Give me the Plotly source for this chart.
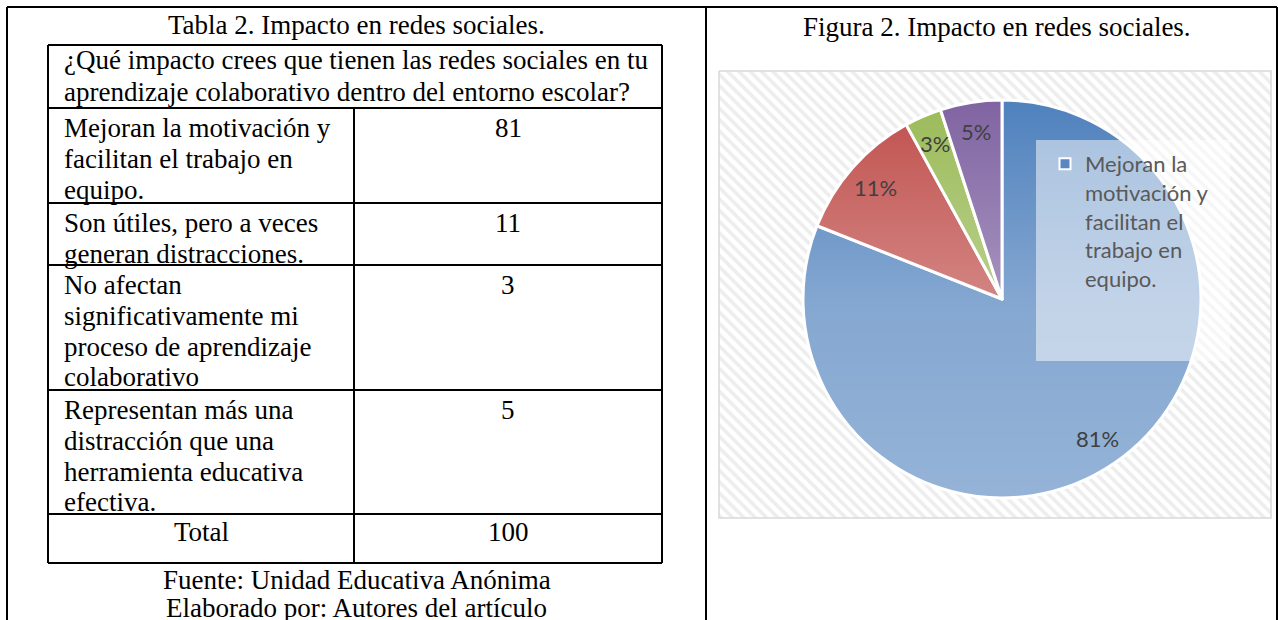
import math
import base64
import textwrap
import plotly.graph_objects as go

W, H = 1278, 620

# ---------------- data ----------------
table_title = "Tabla 2. Impacto en redes sociales."
question_lines = ["¿Qué impacto crees que tienen las redes sociales en tu",
                  "aprendizaje colaborativo dentro del entorno escolar?"]
categories = ["Mejoran la motivación y facilitan el trabajo en equipo.",
              "Son útiles, pero a veces generan distracciones.",
              "No afectan significativamente mi proceso de aprendizaje colaborativo",
              "Representan más una distracción que una herramienta educativa efectiva."]
category_lines = [["Mejoran la motivación y", "facilitan el trabajo en", "equipo."],
                  ["Son útiles, pero a veces", "generan distracciones."],
                  ["No afectan", "significativamente mi", "proceso de aprendizaje", "colaborativo"],
                  ["Representan más una", "distracción que una", "herramienta educativa", "efectiva."]]
values = [81, 11, 3, 5]
total_label = "Total"
total_value = 100
source_lines = ["Fuente: Unidad Educativa Anónima", "Elaborado por: Autores del artículo"]
figure_title = "Figura 2. Impacto en redes sociales."
slice_colors = ["#4F81BD", "#C0504D", "#9BBB59", "#8064A2"]

# ---------------- layout constants (pixels, y down) ----------------
SERIF = "Liberation Serif, Times New Roman, serif"
SANS = "Lato, Open Sans, sans-serif"
TFS = 27                      # table font size
frame_left, frame_mid, frame_right, frame_top = 7, 706, 1277, 7
tbl_left, tbl_right, tbl_col = 48, 662, 354
row_bounds = [45, 108, 203, 265, 390, 514, 563]
line_pitch = 30.8
text_x = 62
val_x = (tbl_col + tbl_right) / 2
chart_box = (719, 71, 1271, 518)
cx, cy, R = 1002, 299, 199
legend_box = (1036, 140, 1230, 361)


def Y(py):
    return H - py


fig = go.Figure()

# hatched chart area
x0, y0, x1, y1 = chart_box
fig.add_trace(go.Scatter(
    x=[x0, x1, x1, x0, x0], y=[Y(y0), Y(y0), Y(y1), Y(y1), Y(y0)],
    mode="lines", fill="toself", fillcolor="white",
    line=dict(color="#D9D9D9", width=1.5),
    fillpattern=dict(shape="\\", size=8, solidity=0.45, fgcolor="#DCDCDC", bgcolor="white"),
    hoverinfo="skip", showlegend=False))

# pie
fig.add_trace(go.Pie(
    labels=categories, values=values, sort=False, direction="clockwise", rotation=0,
    marker=dict(colors=slice_colors, line=dict(color="white", width=3)),
    textinfo="none", showlegend=False, hoverinfo="label+percent",
    domain=dict(x=[(cx - R) / W, (cx + R) / W], y=[(Y(cy) - R) / H, (Y(cy) + R) / H])))

# legend entry (only the first category is visible in the original legend)
fig.add_trace(go.Scatter(
    x=[None], y=[None], mode="markers",
    name="<br>".join(textwrap.wrap(categories[0], 12)),
    marker=dict(symbol="square", size=11, color="#5A87C1", line=dict(color="white", width=2))))

# gradient overlay on pie
svg = ('<svg xmlns="http://www.w3.org/2000/svg" width="400" height="400" viewBox="0 0 400 400">'
       '<defs><linearGradient id="g" x1="0" y1="0" x2="0" y2="1">'
       '<stop offset="0" stop-color="#fff" stop-opacity="0"/>'
       '<stop offset="0.5" stop-color="#fff" stop-opacity="0.3"/>'
       '<stop offset="1" stop-color="#fff" stop-opacity="0.4"/>'
       '</linearGradient></defs><circle cx="200" cy="200" r="200" fill="url(#g)"/></svg>')
src = "data:image/svg+xml;base64," + base64.b64encode(svg.encode()).decode()
images = [dict(source=src, xref="paper", yref="paper", x=(cx - R) / W, y=Y(cy - R) / H,
               sizex=2 * R / W, sizey=2 * R / H, xanchor="left", yanchor="top",
               sizing="stretch", layer="above")]

shapes = []
def line(xa, ya, xb, yb, color="black", width=2):
    shapes.append(dict(type="line", xref="x", yref="y", x0=xa, y0=Y(ya), x1=xb, y1=Y(yb),
                       line=dict(color=color, width=width), layer="above"))

# page frame
line(frame_left, frame_top, frame_right, frame_top)
line(frame_left, frame_top, frame_left, H + 5)
line(frame_mid, frame_top, frame_mid, H + 5)
line(frame_right, frame_top, frame_right, H + 5)
# table
for yb in row_bounds:
    line(tbl_left, yb, tbl_right, yb)
line(tbl_left, row_bounds[0], tbl_left, row_bounds[-1])
line(tbl_right, row_bounds[0], tbl_right, row_bounds[-1])
line(tbl_col, row_bounds[1], tbl_col, row_bounds[-1])

# legend box
lx0, ly0, lx1, ly1 = legend_box
shapes.append(dict(type="rect", xref="x", yref="y", x0=lx0, y0=Y(ly0), x1=lx1, y1=Y(ly1),
                   fillcolor="rgba(255,255,255,0.5)", line=dict(width=0), layer="above"))

ann = []
def text(t, x, y, anchor="left", size=TFS, family=SERIF, color="black"):
    ann.append(dict(text=t, x=x, y=Y(y), xref="x", yref="y", xanchor=anchor, yanchor="middle",
                    showarrow=False, font=dict(family=family, size=size, color=color)))

text(table_title, (frame_left + frame_mid) / 2, 25, "center")
for i, t in enumerate(question_lines):
    text(t, text_x, row_bounds[0] + 15 + i * 32)
for r, lines in enumerate(category_lines):
    top = row_bounds[r + 1]
    for i, t in enumerate(lines):
        text(t, text_x, top + 20 + i * line_pitch)
    text(str(values[r]), val_x, top + 20, "center")
text(total_label, (tbl_left + tbl_col) / 2, row_bounds[5] + 18, "center")
text(str(total_value), val_x, row_bounds[5] + 18, "center")
text(source_lines[0], (frame_left + frame_mid) / 2, 580, "center")
text(source_lines[1], (frame_left + frame_mid) / 2, 608, "center")
text(figure_title, 997, 27, "center")

# pie data labels
tot = sum(values)
cum = 0
for v in values:
    mid = (cum + v / 2) / tot * 2 * math.pi
    cum += v
    px = cx + 0.85 * R * math.sin(mid)
    py = cy - 0.85 * R * math.cos(mid)
    text(f"{v / tot:.0%}", px, py, "center", size=22, family=SANS, color="#404040")

fig.update_layout(
    width=W, height=H, margin=dict(l=0, r=0, t=0, b=0),
    paper_bgcolor="white", plot_bgcolor="white",
    xaxis=dict(range=[0, W], visible=False, fixedrange=True),
    yaxis=dict(range=[0, H], visible=False, fixedrange=True),
    shapes=shapes, annotations=ann, images=images,
    legend=dict(x=1045 / W, y=Y(143) / H, xanchor="left", yanchor="top", valign="top",
                bgcolor="rgba(0,0,0,0)", font=dict(family=SANS, size=22, color="#595959"),
                itemwidth=30),
)

fig.write_html("out.html", config={"displayModeBar": False},
               post_script="document.body.style.margin='0';document.body.style.overflow='hidden';")
